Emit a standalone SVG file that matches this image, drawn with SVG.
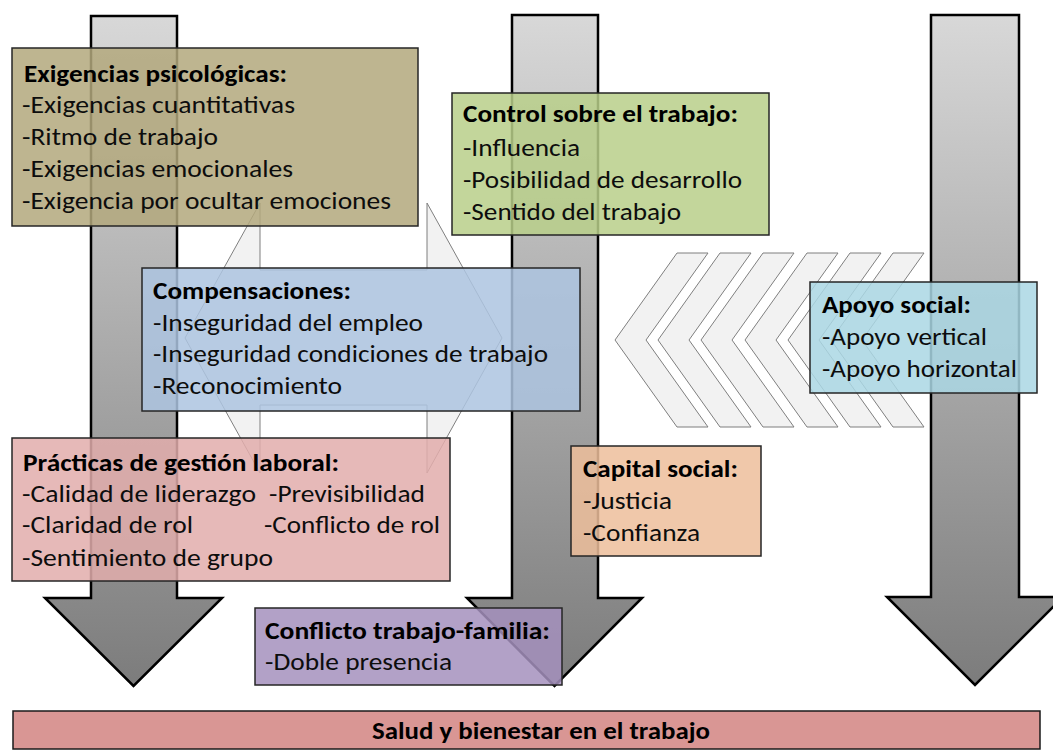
<svg xmlns="http://www.w3.org/2000/svg" xmlns:xlink="http://www.w3.org/1999/xlink" width="1053" height="751" viewBox="0 0 1053 751">
<defs>
<linearGradient id="gArrow" x1="0" y1="0" x2="0" y2="1">
<stop offset="0" stop-color="#d8d8d8"/>
<stop offset="1" stop-color="#7c7c7c"/>
</linearGradient>
<polygon id="chev" points="0,87 62,0 93,0 31,87 93,174 62,174" class="light"/>
<style>
.arrow{fill:url(#gArrow);stroke:#000;stroke-width:2.5;stroke-linejoin:miter}
.light{fill:#f2f2f2;stroke:#7f7f7f;stroke-width:1}
.box{stroke:#262626;stroke-width:1.5;fill-opacity:0.85}
text{font-family:"Carlito","Lato","Liberation Sans",sans-serif;font-size:23.5px;fill:#0d0d0d}
.t{font-weight:bold;fill:#000}
</style>
</defs>
<rect width="1053" height="751" fill="#fff"/>
<g id="connectors">
<path class="arrow" d="M91,16 H177 V598 H222 L133.5,686 L45,598 H91 Z"/>
<path class="arrow" d="M512,15 H598 V598 H642 L554.5,686 L467,598 H512 Z"/>
<path class="arrow" d="M931,15 H1019 V597 H1063 L975,685 L887,597 H931 Z"/>
<polygon class="light" points="185,338 260,203 260,270 427,270 427,203 502,338 427,473 427,405 260,405 260,473"/>
<use xlink:href="#chev" x="615" y="253"/>
<use xlink:href="#chev" x="658" y="253"/>
<use xlink:href="#chev" x="701" y="253"/>
<use xlink:href="#chev" x="745" y="253"/>
<use xlink:href="#chev" x="788" y="253"/>
<use xlink:href="#chev" x="831" y="253"/>
</g>
<g id="exigencias">
<rect class="box" x="12" y="48" width="406" height="178" fill="#b3a87c"/>
<text class="t" x="24" y="82" textLength="263" lengthAdjust="spacingAndGlyphs">Exigencias psicológicas:</text>
<text x="22" y="113" textLength="273" lengthAdjust="spacingAndGlyphs">-Exigencias cuantitativas</text>
<text x="22" y="145" textLength="196" lengthAdjust="spacingAndGlyphs">-Ritmo de trabajo</text>
<text x="22" y="177" textLength="271" lengthAdjust="spacingAndGlyphs">-Exigencias emocionales</text>
<text x="22" y="209" textLength="369" lengthAdjust="spacingAndGlyphs">-Exigencia por ocultar emociones</text>
</g>
<g id="control">
<rect class="box" x="452" y="93" width="317" height="142" fill="#b8cf89"/>
<text class="t" x="463" y="122" textLength="275" lengthAdjust="spacingAndGlyphs">Control sobre el trabajo:</text>
<text x="463" y="156" textLength="117" lengthAdjust="spacingAndGlyphs">-Influencia</text>
<text x="463" y="188" textLength="279" lengthAdjust="spacingAndGlyphs">-Posibilidad de desarrollo</text>
<text x="463" y="220" textLength="218" lengthAdjust="spacingAndGlyphs">-Sentido del trabajo</text>
</g>
<g id="compensaciones">
<rect class="box" x="142" y="268" width="438" height="143" fill="#adc4e1"/>
<text class="t" x="153" y="299" textLength="198" lengthAdjust="spacingAndGlyphs">Compensaciones:</text>
<text x="153" y="331" textLength="270" lengthAdjust="spacingAndGlyphs">-Inseguridad del empleo</text>
<text x="153" y="362" textLength="395" lengthAdjust="spacingAndGlyphs">-Inseguridad condiciones de trabajo</text>
<text x="153" y="394" textLength="189" lengthAdjust="spacingAndGlyphs">-Reconocimiento</text>
</g>
<g id="practicas">
<rect class="box" x="12" y="438" width="438" height="143" fill="#e2adab"/>
<text class="t" x="23" y="471" textLength="316" lengthAdjust="spacingAndGlyphs">Prácticas de gestión laboral:</text>
<text x="22" y="502" textLength="234" lengthAdjust="spacingAndGlyphs">-Calidad de liderazgo</text>
<text x="269" y="502" textLength="156" lengthAdjust="spacingAndGlyphs">-Previsibilidad</text>
<text x="22" y="533" textLength="171" lengthAdjust="spacingAndGlyphs">-Claridad de rol</text>
<text x="264" y="533" textLength="176" lengthAdjust="spacingAndGlyphs">-Conflicto de rol</text>
<text x="22" y="566" textLength="251" lengthAdjust="spacingAndGlyphs">-Sentimiento de grupo</text>
</g>
<g id="capital">
<rect class="box" x="571" y="446" width="190" height="110" fill="#edbe9b"/>
<text class="t" x="583" y="477" textLength="155" lengthAdjust="spacingAndGlyphs">Capital social:</text>
<text x="583" y="509" textLength="89" lengthAdjust="spacingAndGlyphs">-Justicia</text>
<text x="583" y="541" textLength="117" lengthAdjust="spacingAndGlyphs">-Confianza</text>
</g>
<g id="apoyo">
<rect class="box" x="810" y="282" width="227" height="111" fill="#aad7e4"/>
<text class="t" x="822" y="313" textLength="149" lengthAdjust="spacingAndGlyphs">Apoyo social:</text>
<text x="822" y="345" textLength="165" lengthAdjust="spacingAndGlyphs">-Apoyo vertical</text>
<text x="822" y="377" textLength="195" lengthAdjust="spacingAndGlyphs">-Apoyo horizontal</text>
</g>
<g id="conflicto">
<rect class="box" x="255" y="608" width="307" height="77" fill="#a491bd"/>
<text class="t" x="265" y="639" textLength="285" lengthAdjust="spacingAndGlyphs">Conflicto trabajo-familia:</text>
<text x="265" y="670" textLength="187" lengthAdjust="spacingAndGlyphs">-Doble presencia</text>
</g>
<g id="salud">
<rect x="13" y="711" width="1027" height="38" fill="#d99694" stroke="#1a1a1a" stroke-width="1.5"/>
<text class="t" x="372" y="739" textLength="338" lengthAdjust="spacingAndGlyphs">Salud y bienestar en el trabajo</text>
</g>
</svg>
